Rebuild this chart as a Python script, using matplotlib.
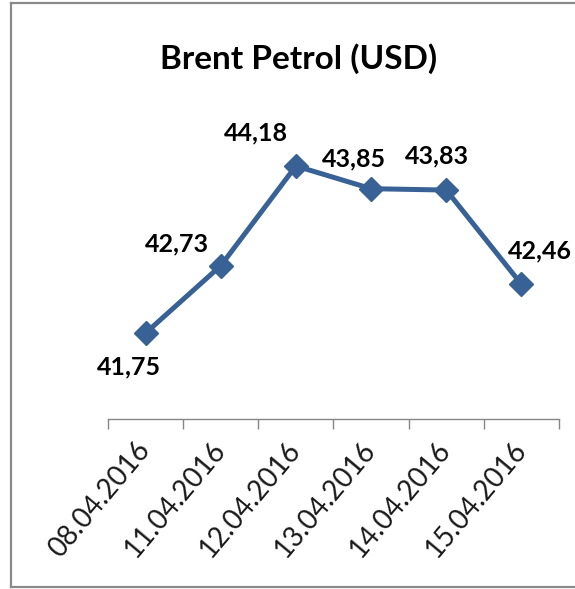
import matplotlib.pyplot as plt
from matplotlib.lines import Line2D

dates = ['08.04.2016', '11.04.2016', '12.04.2016', '13.04.2016', '14.04.2016', '15.04.2016']
prices = [41.75, 42.73, 44.18, 43.85, 43.83, 42.46]
price_labels = ['41,75', '42,73', '44,18', '43,85', '43,83', '42,46']

# where each data label sits relative to its marker (pixels, y up)
label_offsets = [(-17, -34), (-44, 22), (-40, 33), (-17, 30), (-9, 34), (19, 33)]

W, H = 575, 589
fig = plt.figure(figsize=(W / 100, H / 100), dpi=100)
fig.patch.set_facecolor('white')

def rect(x0, x1, y_top, y_bot):
    return [x0 / W, (H - y_bot) / H, (x1 - x0) / W, (y_bot - y_top) / H]

# frame around the chart (right side is cut off in the original)
fc = '#8a8a8a'
fig.add_artist(Line2D([11 / W, 11 / W], [1 - 3 / H, 1 - 587 / H], color=fc, lw=1.6))
fig.add_artist(Line2D([11 / W, 1], [1 - 3 / H, 1 - 3 / H], color=fc, lw=1.6))
fig.add_artist(Line2D([11 / W, 1], [1 - 587 / H, 1 - 587 / H], color=fc, lw=1.6))

ymin, ymax = 40.5, 44.5

ax = fig.add_axes(rect(108, 559, 144, 419))
n = len(dates)
ax.set_xlim(-0.5, n - 0.5)
ax.set_ylim(ymin, ymax)
for s in ['top', 'right', 'left']:
    ax.spines[s].set_visible(False)
ax.spines['bottom'].set_color('#868686')
ax.spines['bottom'].set_linewidth(1.0)
ax.set_yticks([])
ax.set_xticks([i - 0.5 for i in range(n + 1)])
ax.set_xticklabels([])
ax.tick_params(axis='x', which='major', length=7, width=1.0, color='#868686', direction='out')
ax.set_xticks(range(n), minor=True)
ax.set_xticklabels(dates, minor=True, rotation=50, ha='right', va='center',
                   rotation_mode='anchor', fontsize=20, family='Lato', color='#1a1a1a')
ax.tick_params(axis='x', which='minor', length=0, pad=19)

ax.plot(range(n), prices, color='#386195', lw=3.6, marker='D', markersize=12.5,
        clip_on=False, zorder=3)
for i, (v, t) in enumerate(zip(prices, price_labels)):
    dx, dy = label_offsets[i]
    ax.annotate(t, (i, v), xytext=(dx * 0.72, dy * 0.72), textcoords='offset points',
                ha='center', va='center', fontsize=18, fontweight='bold',
                family='Lato', annotation_clip=False)

fig.text(299 / W, 1 - 59 / H, 'Brent Petrol (USD)', ha='center', va='center',
         fontsize=24, fontweight='bold', family='Lato')

fig.savefig('out.png', dpi=100)
